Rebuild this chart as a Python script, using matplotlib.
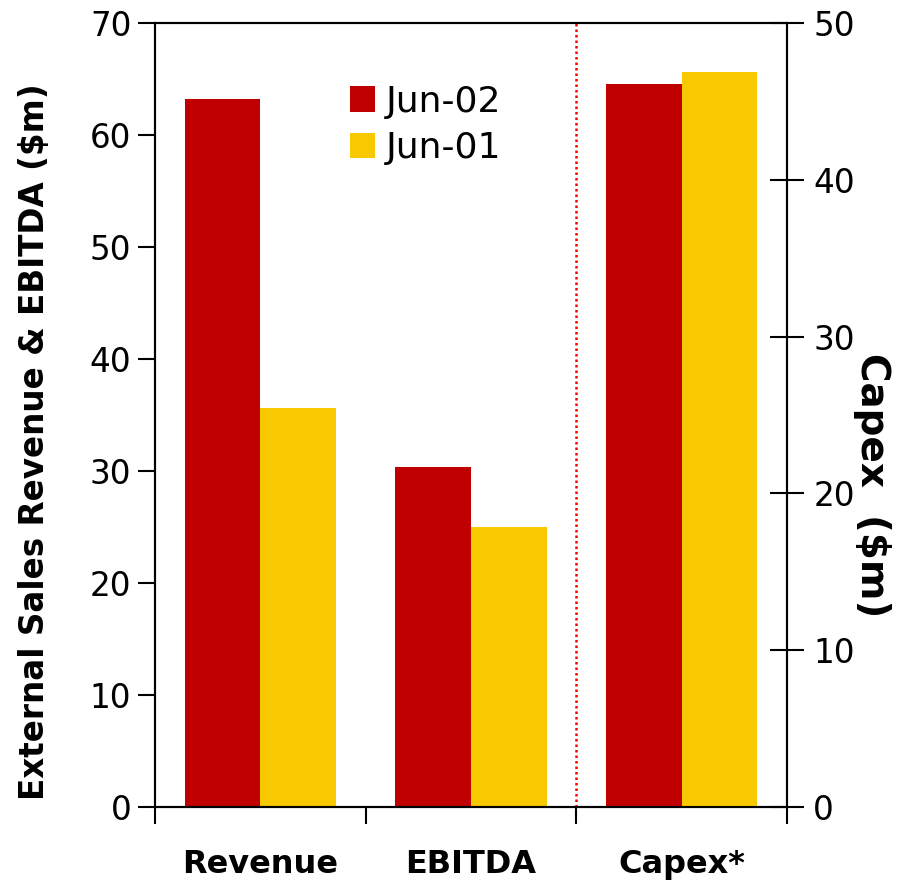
import numpy as np
import matplotlib.pyplot as plt

# Data ($m)
categories = ["Revenue", "EBITDA", "Capex*"]
series_labels = ["Jun-02", "Jun-01"]
left_jun02 = [63.2, 30.4]     # Revenue, EBITDA on left axis
left_jun01 = [35.6, 25.0]
capex_jun02 = 46.1            # Capex on right axis
capex_jun01 = 46.9

RED = "#c00000"
GOLD = "#f8c800"

fig = plt.figure(figsize=(9.14, 8.86), dpi=100)
ax = fig.add_axes([0.1696, 0.0892, 0.8610 - 0.1696, 0.974 - 0.0892])
ax2 = ax.twinx()

w = 0.36
x = np.arange(len(categories))
ax.bar(x[:2] - w / 2, left_jun02, w, color=RED, label=series_labels[0], zorder=2)
ax.bar(x[:2] + w / 2, left_jun01, w, color=GOLD, label=series_labels[1], zorder=2)
ax2.bar(x[2] - w / 2, capex_jun02, w, color=RED, zorder=2)
ax2.bar(x[2] + w / 2, capex_jun01, w, color=GOLD, zorder=2)

# separator between P&L items and capex
ax.axvline(1.5, color="red", linestyle=(0, (1, 1.2)), linewidth=1.8, zorder=1)

ax.set_xlim(-0.5, 2.5)
ax.set_ylim(0, 70)
ax2.set_ylim(0, 50)
ax.set_yticks(np.arange(0, 71, 10))
ax2.set_yticks(np.arange(0, 51, 10))

# category boundaries as major ticks, names centred on minor ticks
ax.set_xticks([-0.5, 0.5, 1.5, 2.5])
ax.set_xticklabels([])
ax.set_xticks(x, minor=True)
ax.set_xticklabels(categories, minor=True, fontsize=23, fontweight="bold")
ax.tick_params(axis="x", which="major", direction="out", length=12, width=1.5)
ax.tick_params(axis="x", which="minor", length=0, pad=30)
ax.tick_params(axis="y", direction="out", length=12, width=1.5, labelsize=23.5, pad=5)
ax2.tick_params(axis="y", direction="inout", length=24, width=1.5, labelsize=23.5, pad=7)

for a in (ax, ax2):
    for s in a.spines.values():
        s.set_linewidth(1.5)

ax.set_ylabel("External Sales Revenue & EBITDA ($m)", fontsize=23.5, fontweight="bold")
ax.yaxis.set_label_coords(-0.165, 0.466)
ax2.set_ylabel("Capex  ($m)", fontsize=28, fontweight="bold", rotation=-90)
ax2.yaxis.set_label_coords(1.165, 0.41)

ax.legend(loc="upper left", bbox_to_anchor=(0.285, 0.94), frameon=False, fontsize=26,
          handlelength=0.7, handleheight=0.7, handletextpad=0.3, labelspacing=0.35,
          borderaxespad=0)

fig.savefig("out.png", dpi=100)
